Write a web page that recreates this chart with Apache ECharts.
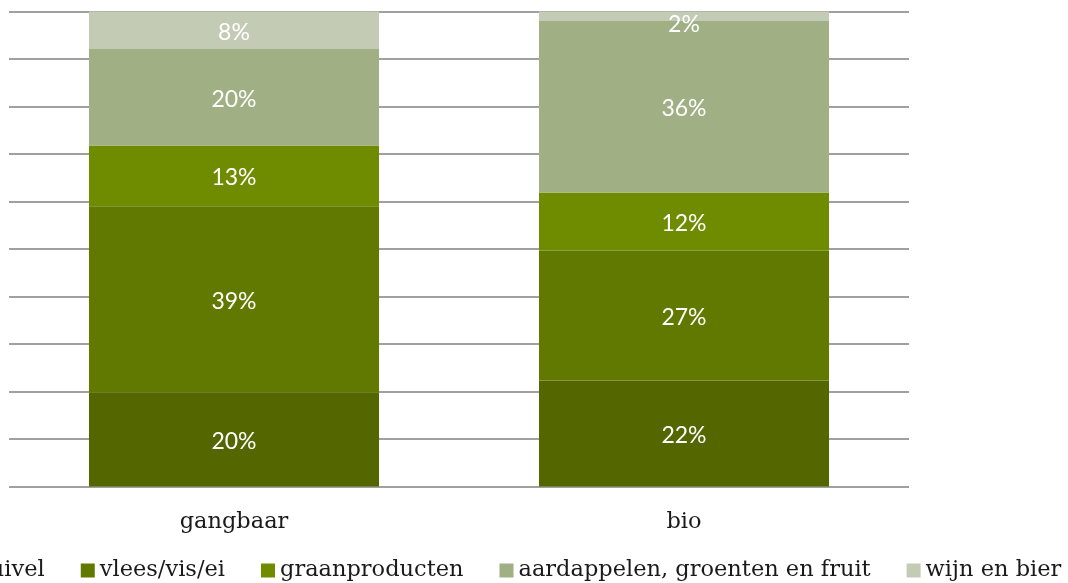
<!DOCTYPE html>
<html>
<head>
<meta charset="utf-8">
<script src="https://cdn.jsdelivr.net/npm/echarts@6/dist/echarts.min.js"></script>
<style>
  html, body { margin: 0; padding: 0; background: #fff; }
  #chart { width: 1068px; height: 583px; }
</style>
</head>
<body>
<div id="chart"></div>
<script>
    var categories = ['gangbaar', 'bio'];
    var seriesNames = ['zuivel', 'vlees/vis/ei', 'graanproducten', 'aardappelen, groenten en fruit', 'wijn en bier'];
    // aandeel per productgroep (%), volgorde als seriesNames
    var zuivel = [19.8, 22.3];
    var vlees = [39.2, 27.4];
    var graan = [12.8, 12.2];
    var aardappelen = [20.3, 36.1];
    var wijn = [7.9, 2.0];
    var colors = ['#536600', '#627900', '#6f8c00', '#a0af84', '#c4cbb4'];

    var chart = echarts.init(document.getElementById('chart'));
    var values = [zuivel, vlees, graan, aardappelen, wijn];

    var series = seriesNames.map(function (name, i) {
        return {
            name: name,
            type: 'bar',
            stack: 'totaal',
            barWidth: 290,
            // kleine segmenten: label iets lager, zoals in het origineel
            data: values[i].map(function (v) {
                return v < 5 ? { value: v, label: { offset: [0, 8] } } : v;
            }),
            itemStyle: { color: colors[i] },
            label: {
                show: true,
                color: '#fff',
                fontFamily: 'Lato',
                fontSize: 23,
                offset: [0, 2],
                formatter: function (p) { return Math.round(p.value) + '%'; }
            }
        };
    });

    chart.setOption({
        animation: false,
        grid: { left: 9, right: 159, top: 11.5, bottom: 96.5 },
        legend: {
            left: -46,
            top: 554,
            itemWidth: 14,
            itemHeight: 14,
            itemGap: 36,
            icon: 'rect',
            textStyle: { fontFamily: 'DejaVu Serif', fontSize: 22.5, color: '#1a1a1a' },
            data: seriesNames
        },
        xAxis: {
            type: 'category',
            data: categories,
            axisLine: { show: false },
            axisTick: { show: false },
            axisLabel: { fontFamily: 'DejaVu Serif', fontSize: 22.5, color: '#1a1a1a', margin: 24 }
        },
        yAxis: {
            type: 'value',
            min: 0,
            max: 100,
            interval: 10,
            axisLabel: { show: false },
            splitLine: { lineStyle: { color: '#a0a0a0', width: 2 } }
        },
        series: series
    });
</script>
</body>
</html>
